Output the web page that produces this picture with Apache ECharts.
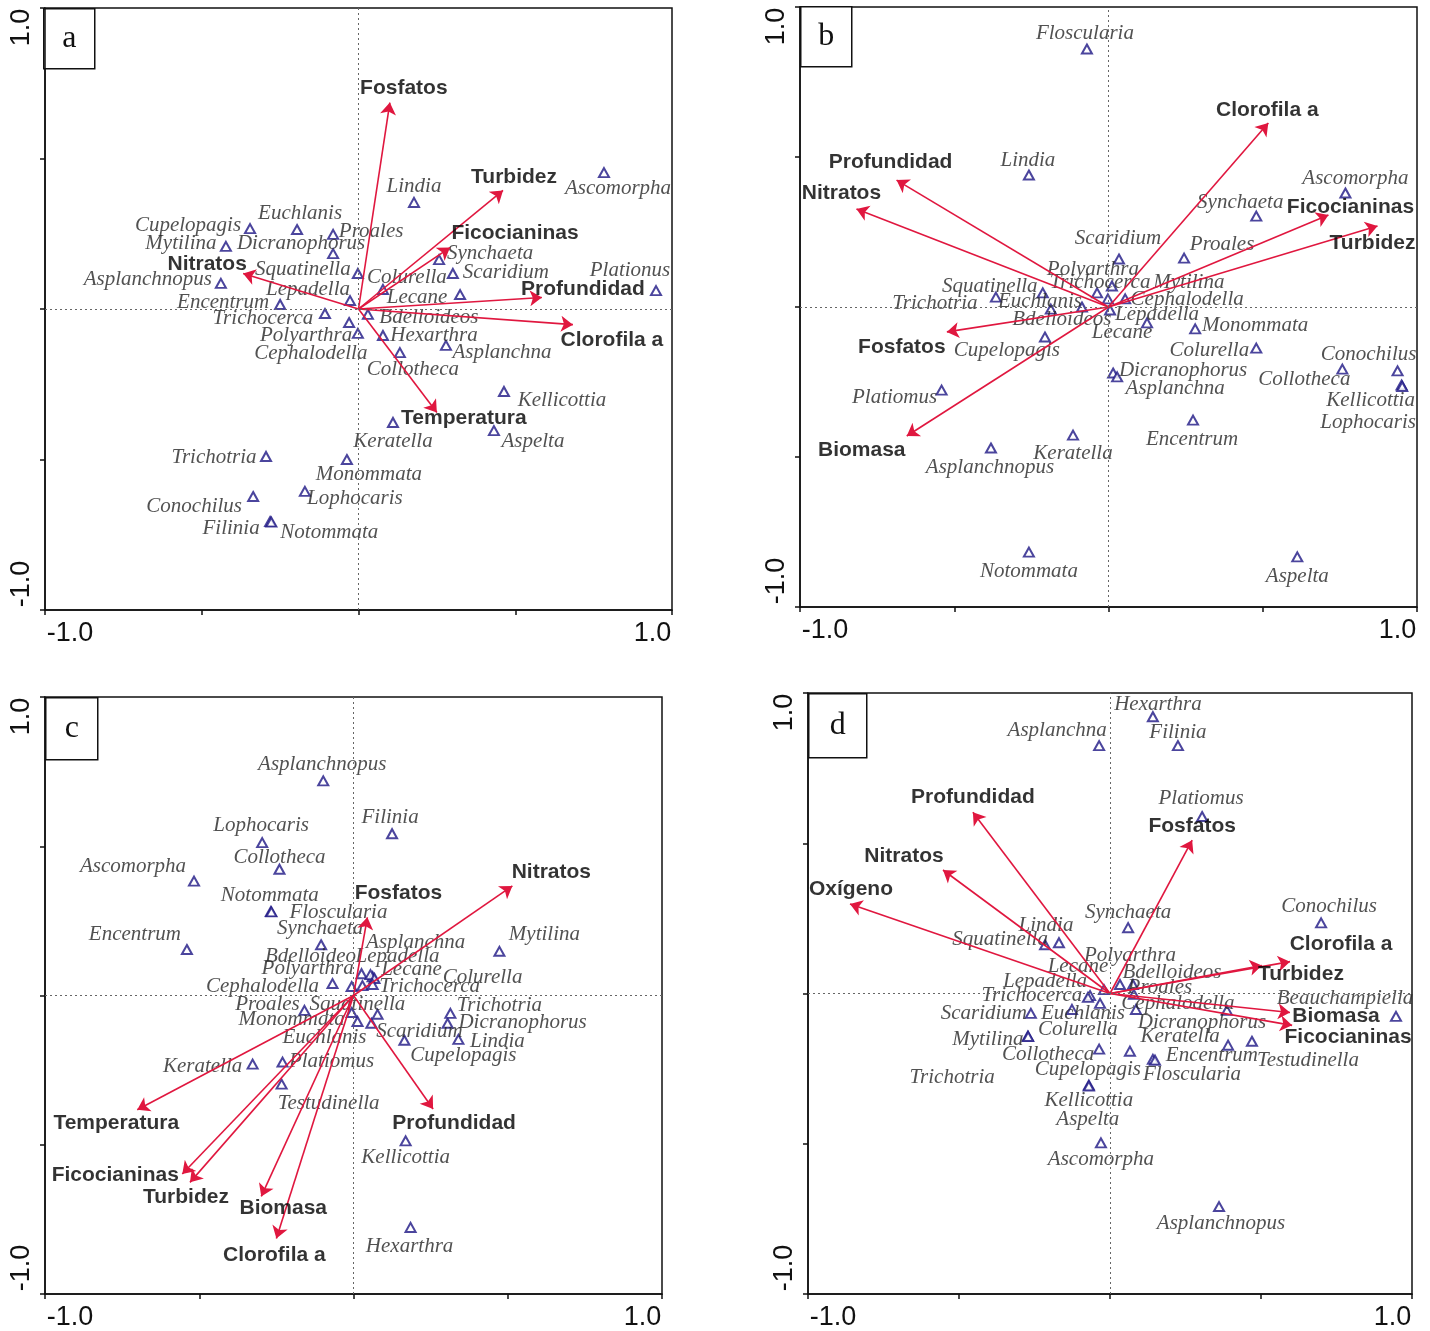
<!DOCTYPE html>
<html><head><meta charset="utf-8">
<script src="https://cdn.jsdelivr.net/npm/echarts@6/dist/echarts.min.js"></script>
<style>html,body{margin:0;padding:0;background:#fff}#chart{width:1430px;height:1331px}</style>
</head><body><div id="chart"></div>
<script>
// ---------------- DATA ----------------
const panelLetters = ['a', 'b', 'c', 'd'];
const axisMin = -1, axisMax = 1, axisStep = 0.5;
const tickLabelMin = '-1.0', tickLabelMax = '1.0';

// Panel a
const aSpecies = ['Cupelopagis','Euchlanis','Proales','Mytilina','Dicranophorus','Asplanchnopus','Squatinella','Lepadella','Encentrum','Trichocerca','Polyarthra','Cephalodella','Colurella','Lecane','Bdelloideos','Hexarthra','Asplanchna','Collotheca','Kellicottia','Keratella','Aspelta','Monommata','Lophocaris','Trichotria','Conochilus','Filinia','Notommata','Lindia','Ascomorpha','Synchaeta','Scaridium','Plationus'];
const aSpeciesXY = [[-0.346,0.267],[-0.196,0.264],[-0.081,0.248],[-0.423,0.208],[-0.081,0.184],[-0.439,0.085],[-0.002,0.118],[-0.027,0.028],[-0.250,0.015],[-0.107,-0.015],[-0.030,-0.045],[-0.002,-0.081],[0.078,0.065],[0.324,0.048],[0.030,-0.018],[0.078,-0.088],[0.279,-0.121],[0.132,-0.145],[0.464,-0.274],[0.110,-0.377],[0.432,-0.404],[-0.037,-0.500],[-0.171,-0.606],[-0.295,-0.490],[-0.336,-0.623],[-0.282,-0.706],[-0.278,-0.708],[0.177,0.354],[0.783,0.453],[0.257,0.164],[0.301,0.118],[0.949,0.061]];
const aVars = ['Fosfatos','Turbidez','Ficocianinas','Profundidad','Clorofila a','Temperatura','Nitratos'];
const aVarsXY = [[0.100,0.686],[0.461,0.394],[0.292,0.204],[0.585,0.038],[0.684,-0.052],[0.250,-0.344],[-0.368,0.118]];

// Panel b
const bSpecies = ['Floscularia','Lindia','Ascomorpha','Synchaeta','Scaridium','Proales','Polyarthra','Trichocerca','Mytilina','Cephalodella','Lepadella','Lecane','Euchlanis','Bdelloideos','Squatinella','Trichotria','Monommata','Colurella','Conochilus','Collotheca','Kellicottia','Lophocaris','Dicranophorus','Asplanchna','Encentrum','Aspelta','Cupelopagis','Platiomus','Asplanchnopus','Keratella','Notommata'];
const bSpeciesXY = [[-0.070,0.860],[-0.258,0.440],[0.768,0.380],[0.479,0.303],[0.034,0.160],[0.245,0.163],[0.011,0.070],[-0.037,0.047],[-0.002,0.027],[0.054,0.027],[0.125,-0.053],[0.005,-0.010],[-0.086,0.000],[-0.187,-0.007],[-0.213,0.047],[-0.365,0.033],[0.281,-0.073],[0.479,-0.137],[0.937,-0.213],[0.758,-0.207],[0.950,-0.260],[0.952,-0.265],[0.015,-0.220],[0.028,-0.233],[0.274,-0.377],[0.612,-0.833],[-0.206,-0.100],[-0.541,-0.277],[-0.381,-0.470],[-0.115,-0.427],[-0.258,-0.817]];
const bVars = ['Profundidad','Nitratos','Clorofila a','Ficocianinas','Turbidez','Fosfatos','Biomasa'];
const bVarsXY = [[-0.687,0.423],[-0.817,0.327],[0.518,0.613],[0.713,0.307],[0.872,0.270],[-0.524,-0.083],[-0.654,-0.430]];

// Panel c
const cSpecies = ['Asplanchnopus','Filinia','Lophocaris','Collotheca','Ascomorpha','Notommata','Floscularia','Synchaeta','Encentrum','Mytilina','Bdelloideo','Asplanchna','Lepadella','Lecane','Polyarthra','Squatinella','Trichocerca','Cephalodella','Monommata','Euchlanis','Scaridium','Colurella','Cupelopagis','Lindia','Dicranophorus','Trichotria','Keratella','Platiomus','Proales','Testudinella','Kellicottia','Hexarthra'];
const cSpeciesXY = [[-0.098,0.719],[0.125,0.542],[-0.296,0.512],[-0.240,0.423],[-0.517,0.383],[-0.268,0.281],[-0.266,0.280],[-0.105,0.170],[-0.540,0.154],[0.473,0.148],[0.026,0.073],[0.062,0.063],[0.055,0.070],[0.068,0.057],[-0.006,0.030],[0.029,0.033],[0.062,0.037],[-0.068,0.040],[-0.006,-0.057],[0.013,-0.087],[0.058,-0.093],[0.078,-0.063],[0.165,-0.150],[0.340,-0.147],[0.305,-0.093],[0.314,-0.060],[-0.327,-0.230],[-0.230,-0.223],[-0.159,-0.050],[-0.233,-0.297],[0.169,-0.487],[0.185,-0.777]];
const cVars = ['Nitratos','Fosfatos','Temperatura','Ficocianinas','Turbidez','Biomasa','Clorofila a','Profundidad'];
const cVarsXY = [[0.515,0.367],[0.045,0.262],[-0.701,-0.383],[-0.555,-0.598],[-0.530,-0.626],[-0.299,-0.673],[-0.250,-0.814],[0.258,-0.380]];

// Panel d
const dSpecies = ['Hexarthra','Filinia','Asplanchna','Platiomus','Conochilus','Synchaeta','Lindia','Squatinella','Polyarthra','Lecane','Bdelloideos','Lepadella','Proales','Trichocerca','Cephalodella','Scaridium','Euchlanis','Dicranophorus','Colurella','Keratella','Mytilina','Trichotria','Collotheca','Encentrum','Testudinella','Cupelopagis','Floscularia','Kellicottia','Aspelta','Ascomorpha','Asplanchnopus','Beauchampiella'];
const dSpeciesXY = [[0.142,0.921],[0.225,0.825],[-0.036,0.825],[0.305,0.589],[0.699,0.235],[0.060,0.219],[-0.169,0.169],[-0.215,0.162],[0.033,0.030],[-0.020,0.013],[0.076,0.030],[-0.066,-0.007],[0.079,-0.003],[-0.073,-0.013],[0.387,-0.056],[-0.262,-0.066],[-0.033,-0.033],[0.086,-0.053],[-0.126,-0.053],[0.391,-0.172],[-0.272,-0.142],[-0.271,-0.143],[-0.036,-0.185],[0.066,-0.192],[0.470,-0.159],[0.142,-0.219],[0.149,-0.222],[-0.070,-0.305],[-0.070,-0.308],[-0.030,-0.497],[0.361,-0.709],[0.947,-0.076]];
const dVars = ['Profundidad','Nitratos','Oxígeno','Fosfatos','Clorofila a','Turbidez','Biomasa','Ficocianinas'];
const dVarsXY = [[-0.454,0.603],[-0.553,0.411],[-0.861,0.298],[0.272,0.510],[0.596,0.106],[0.503,0.093],[0.596,-0.063],[0.603,-0.106]];

// ---------------- LAYOUT (pixel placement of plots and labels) ----------------
const layout = {
  a: { grid: [45, 8, 627, 602], box: [43, 8, 51, 60],
    spOff: [[-62,-3],[3,-16],[38,-3],[-45,-3],[-32,-10],[-73,-4],[-55,-4],[-42,-11],[-57,-2],[-62,5],[-43,13],[-47,20],[24,-12],[-43,3],[61,3],[51,0],[56,7],[13,17],[58,9],[0,19],[39,11],[22,15],[50,7],[-52,1],[-59,10],[-39,7],[58,10],[0,-16],[14,16],[51,-6],[53,-1],[-26,-20]],
    varOff: [[14,-14],[11,-13],[65,-14],[41,-8],[39,16],[27,6],[-36,-9]] },
  b: { grid: [800, 7, 617, 600], box: [800, 6, 51, 60],
    spOff: [[-2,-16],[-1,-15],[10,-15],[-16,-14],[-1,-21],[38,-14],[-19,-17],[3,-10],[81,-16],[62,1],[10,-8],[12,22],[-42,-6],[11,10],[-53,-6],[-61,6],[60,-3],[-47,2],[-29,-16],[-38,10],[-31,15],[-34,36],[70,-3],[58,12],[-1,19],[0,20],[-38,13],[-47,7],[-1,19],[0,18],[0,19]],
    varOff: [[-6,-18],[-15,-16],[-1,-13],[22,-8],[-5,17],[-45,15],[-45,14]] },
  c: { grid: [45, 697, 617, 600], box: [45, 697, 52, 62],
    spOff: [[-1,-16],[-2,-16],[-1,-17],[0,-12],[-61,-15],[-1,-16],[67,1],[-1,-16],[-52,-15],[45,-17],[-51,-17],[43,-34],[27,-18],[37,-9],[-44,-18],[-5,19],[57,2],[-70,3],[-60,7],[-33,16],[48,8],[105,-37],[59,15],[39,2],[75,-1],[49,-8],[-50,2],[49,-1],[-37,-6],[47,19],[0,17],[-1,19]],
    varOff: [[39,-14],[31,-24],[-21,13],[-67,1],[-4,15],[22,12],[-2,17],[21,14]] },
  d: { grid: [808, 693, 604, 604], box: [808, 693, 58, 64],
    spOff: [[5,-12],[0,-13],[-42,-15],[-1,-18],[8,-16],[0,-15],[-13,-17],[-45,-5],[10,-29],[-26,-23],[39,-12],[-45,-14],[26,-7],[-56,-2],[-49,-7],[-47,0],[-17,10],[66,13],[6,20],[-48,-9],[-40,3],[-76,41],[-51,5],[82,4],[56,19],[-65,10],[37,14],[0,15],[-1,33],[0,17],[2,17],[-51,-18]],
    varOff: [[0,-15],[-39,-14],[1,-15],[0,-14],[51,-17],[39,9],[46,4],[56,12]] }
};

const panels = [
  { key: 'a', species: aSpecies, sp: aSpeciesXY, vars: aVars, vxy: aVarsXY },
  { key: 'b', species: bSpecies, sp: bSpeciesXY, vars: bVars, vxy: bVarsXY },
  { key: 'c', species: cSpecies, sp: cSpeciesXY, vars: cVars, vxy: cVarsXY },
  { key: 'd', species: dSpecies, sp: dSpeciesXY, vars: dVars, vxy: dVarsXY }
];

const TRI = '#1e1785', ARROW = '#e0173f', INK = '#000';
const axisFont = { fontFamily: 'Liberation Sans', fontSize: 27, color: '#111' };
function tickFmt(v) {
  if (Math.abs(v - axisMin) < 1e-9) return '{min|' + tickLabelMin + '}';
  if (Math.abs(v - axisMax) < 1e-9) return '{max|' + tickLabelMax + '}';
  return '';
}

const grid = [], xAxis = [], yAxis = [], series = [], graphic = [];
panels.forEach((p, i) => {
  const L = layout[p.key];
  grid.push({ left: L.grid[0], top: L.grid[1], width: L.grid[2], height: L.grid[3],
    show: true, borderColor: '#111', borderWidth: 1.5, backgroundColor: '#fff' });
  const common = {
    type: 'value', gridIndex: i, min: axisMin, max: axisMax, interval: axisStep,
    splitLine: { show: false },
    axisLine: { show: true, onZero: false, lineStyle: { color: '#111', width: 1.5 } },
    axisTick: { show: true, length: 5, lineStyle: { color: '#111', width: 1.5 } }
  };
  xAxis.push(Object.assign({}, common, { position: 'bottom',
    axisLabel: { margin: 10, formatter: tickFmt, ...axisFont,
      rich: { min: { ...axisFont, padding: [0, 0, 0, 50] }, max: { ...axisFont, padding: [0, 39, 0, 0] } } } }));
  yAxis.push(Object.assign({}, common, { position: 'left',
    axisLabel: { margin: 10, rotate: 90, formatter: tickFmt, ...axisFont,
      rich: { min: { ...axisFont, padding: [0, 0, 0, 52] }, max: { ...axisFont, padding: [0, 39, 0, 0] } } } }));

  // species (hollow triangles) + zero reference lines
  series.push({
    type: 'scatter', xAxisIndex: i, yAxisIndex: i, z: 3, silent: true,
    symbol: 'emptyTriangle', symbolSize: [10, 9],
    itemStyle: { color: TRI, borderColor: TRI, borderWidth: 1.6 },
    label: { show: true, position: 'inside', formatter: '{b}', fontFamily: 'Liberation Serif',
      fontStyle: 'italic', fontSize: 21, color: '#262626' },
    data: p.species.map((n, k) => ({ name: n, value: p.sp[k], label: { offset: L.spOff[k] } })),
    markLine: { silent: true, symbol: 'none', animation: false, label: { show: false },
      lineStyle: { type: [2, 3], color: '#666', width: 1 },
      data: [{ xAxis: 0 }, { yAxis: 0 }] }
  });
  // environmental arrows
  series.push({
    type: 'lines', coordinateSystem: 'cartesian2d', xAxisIndex: i, yAxisIndex: i, z: 4, silent: true,
    symbol: ['none', 'arrow'], symbolSize: [0, 12],
    lineStyle: { color: ARROW, width: 1.6, opacity: 1 },
    data: p.vars.map((n, k) => ({ coords: [[0, 0], p.vxy[k]] }))
  });
  // arrow labels
  series.push({
    type: 'scatter', xAxisIndex: i, yAxisIndex: i, z: 5, silent: true,
    symbolSize: 1, itemStyle: { color: 'rgba(0,0,0,0)' },
    label: { show: true, position: 'inside', formatter: '{b}', fontFamily: 'Liberation Sans',
      fontWeight: 'bold', fontSize: 21, color: INK },
    data: p.vars.map((n, k) => ({ name: n, value: p.vxy[k], label: { offset: L.varOff[k] } }))
  });
  // panel letter box
  const b = L.box;
  graphic.push({ type: 'group', left: b[0], top: b[1], z: 100, children: [
    { type: 'rect', shape: { x: 0, y: 0, width: b[2], height: b[3] }, style: { fill: '#fff', stroke: '#111', lineWidth: 1.5 } },
    { type: 'text', x: b[2] / 2, y: b[3] / 2, style: { text: panelLetters[i], font: '32px "Liberation Serif"', fill: '#111', textAlign: 'center', textVerticalAlign: 'middle' } }
  ] });
});

const chart = echarts.init(document.getElementById('chart'), null, { renderer: 'canvas' });
chart.setOption({ animation: false, backgroundColor: '#fff', grid, xAxis, yAxis, series, graphic });
</script></body></html>
